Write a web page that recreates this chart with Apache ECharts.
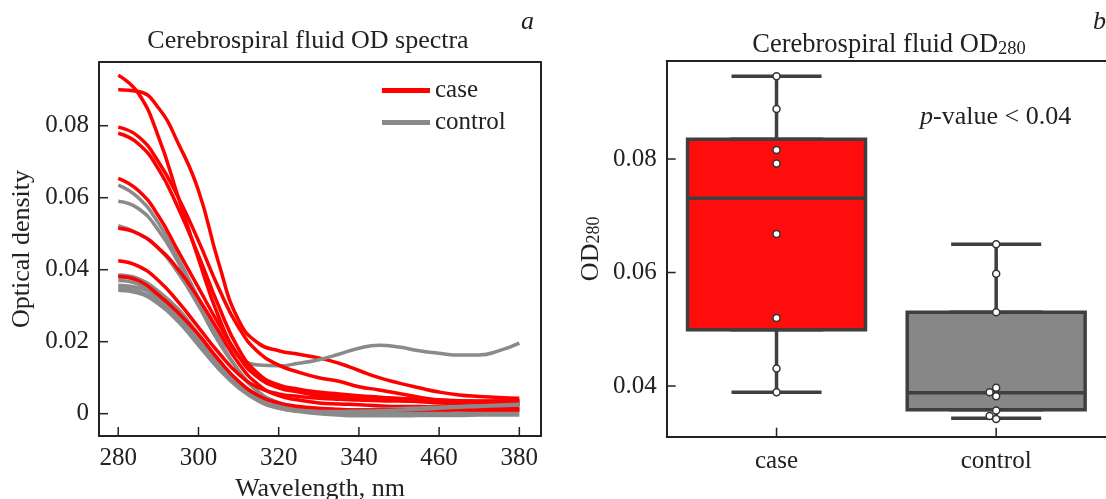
<!DOCTYPE html>
<html>
<head>
<meta charset="utf-8">
<script src="https://cdn.jsdelivr.net/npm/echarts@6/dist/echarts.min.js"></script>
<style>
  html, body { margin: 0; padding: 0; background: #fff; }
  #chart-container { width: 1106px; height: 499px; }
</style>
</head>
<body>
<div id="chart-container"></div>
<script>
// ---- data ----
var wavelengths = [280, 285, 290, 295, 300, 305, 310, 315, 320, 325, 330, 335, 340, 345, 350, 355, 360, 365, 370, 375, 380];

var caseSpectra = [
  [0.094, 0.089, 0.077, 0.060, 0.043, 0.027, 0.016, 0.010, 0.0075, 0.0065, 0.0058, 0.0052, 0.0048, 0.0045, 0.0042, 0.0040, 0.0038, 0.0036, 0.0035, 0.0035, 0.0035],
  [0.090, 0.0895, 0.085, 0.075, 0.062, 0.042, 0.026, 0.0195, 0.0175, 0.0165, 0.0155, 0.014, 0.012, 0.010, 0.0085, 0.0072, 0.006, 0.0052, 0.0048, 0.0045, 0.0043],
  [0.0796, 0.077, 0.070, 0.060, 0.048, 0.035, 0.024, 0.017, 0.0135, 0.0115, 0.010, 0.009, 0.0075, 0.0066, 0.0056, 0.0046, 0.0038, 0.0035, 0.0034, 0.0033, 0.0033],
  [0.0779, 0.075, 0.068, 0.057, 0.044, 0.030, 0.018, 0.011, 0.008, 0.0068, 0.006, 0.0055, 0.005, 0.0046, 0.0042, 0.004, 0.0037, 0.0035, 0.0033, 0.003, 0.003],
  [0.0654, 0.062, 0.055, 0.045, 0.035, 0.025, 0.016, 0.010, 0.0072, 0.006, 0.005, 0.0045, 0.0042, 0.004, 0.0037, 0.0034, 0.003, 0.0028, 0.0027, 0.0026, 0.0025],
  [0.0515, 0.050, 0.046, 0.040, 0.032, 0.023, 0.014, 0.008, 0.005, 0.0038, 0.003, 0.0027, 0.0025, 0.0022, 0.002, 0.002, 0.0019, 0.0018, 0.0017, 0.0016, 0.0015],
  [0.0425, 0.041, 0.037, 0.031, 0.024, 0.017, 0.011, 0.0072, 0.0055, 0.0048, 0.0043, 0.004, 0.0038, 0.0036, 0.0035, 0.0034, 0.0033, 0.0033, 0.0034, 0.0035, 0.0036],
  [0.0381, 0.037, 0.033, 0.028, 0.022, 0.015, 0.009, 0.005, 0.003, 0.002, 0.0015, 0.0012, 0.001, 0.001, 0.0011, 0.001, 0.001, 0.0011, 0.001, 0.001, 0.001]
];

var controlSpectra = [
  [0.0635, 0.060, 0.053, 0.043, 0.032, 0.021, 0.012, 0.006, 0.003, 0.0015, 0.001, 0.0008, 0.0006, 0.0005, 0.0005, 0.0006, 0.0006, 0.0007, 0.0008, 0.001, 0.0012],
  [0.059, 0.057, 0.051, 0.042, 0.032, 0.022, 0.016, 0.0135, 0.0133, 0.014, 0.015, 0.0165, 0.0182, 0.019, 0.0185, 0.0175, 0.0168, 0.0163, 0.0163, 0.0175, 0.0196],
  [0.0522, 0.050, 0.046, 0.039, 0.030, 0.020, 0.012, 0.006, 0.003, 0.0018, 0.0012, 0.001, 0.001, 0.0012, 0.0014, 0.0015, 0.0016, 0.0018, 0.002, 0.0022, 0.0025],
  [0.0385, 0.0375, 0.034, 0.029, 0.022, 0.015, 0.009, 0.005, 0.0025, 0.0015, 0.001, 0.0008, 0.0008, 0.001, 0.0012, 0.0013, 0.0015, 0.0017, 0.0019, 0.0021, 0.0023],
  [0.038, 0.037, 0.0335, 0.0285, 0.0215, 0.0145, 0.0085, 0.0045, 0.002, 0.001, 0.0004, 0.0002, 0.0002, 0.0003, 0.0003, 0.0004, 0.0005, 0.0006, 0.0007, 0.0008, 0.001],
  [0.037, 0.036, 0.0325, 0.0275, 0.021, 0.014, 0.0082, 0.0042, 0.0018, 0.0008, 0.0002, -0.0002, -0.0003, -0.0003, -0.0002, -0.0002, -0.0001, 0, 0, 0.0002, 0.0003],
  [0.0357, 0.035, 0.032, 0.027, 0.0205, 0.0135, 0.008, 0.004, 0.0018, 0.001, 0.0008, 0.0009, 0.001, 0.0012, 0.0014, 0.0016, 0.0018, 0.002, 0.0022, 0.0024, 0.0026],
  [0.035, 0.034, 0.031, 0.026, 0.0195, 0.013, 0.0075, 0.0038, 0.0016, 0.0006, 0, -0.0004, -0.0006, -0.0006, -0.0006, -0.0005, -0.0005, -0.0005, -0.0004, -0.0004, -0.0004],
  [0.0343, 0.0335, 0.0305, 0.0255, 0.019, 0.0125, 0.0072, 0.0035, 0.0015, 0.0008, 0.0006, 0.0006, 0.0007, 0.0008, 0.001, 0.0012, 0.0015, 0.0018, 0.002, 0.0022, 0.0024]
];

var xTickValues = [280, 300, 320, 340, 360, 380];
var xTickText = ['280', '300', '320', '340', '460', '380'];
var odTickValues = [0, 0.02, 0.04, 0.06, 0.08];
var od280TickValues = [0.04, 0.06, 0.08];

var groups = ['case', 'control'];
// whisker low, Q1, median, Q3, whisker high
var caseBox = [0.0389, 0.0499, 0.0731, 0.0835, 0.0946];
var controlBox = [0.0343, 0.0358, 0.0388, 0.0530, 0.0650];
var caseOD280 = [0.0946, 0.0888, 0.0816, 0.0792, 0.0668, 0.0520, 0.0431, 0.0389];
var controlOD280 = [0.0650, 0.0598, 0.0530, 0.0397, 0.0389, 0.0382, 0.0357, 0.0347, 0.0342];
var controlJitter = [0, 0, 0, 0, -0.03, 0, 0, -0.03, 0];

var RED = '#ff0000';
var GREY = '#8a8a8a';
var FONT = 'Liberation Serif';
var INK = '#222';

// axis ranges
var X0 = [275.2, 385.4];
var Y0 = [-0.0062, 0.0977];
var Y1 = [0.03107, 0.09727];

var dom = document.getElementById('chart-container');
var myChart = echarts.init(dom, null, { renderer: 'canvas' });

var lineSeries = [];
function addSpectrum(name, color, values) {
  lineSeries.push({
    name: name,
    type: 'line',
    xAxisIndex: 0,
    yAxisIndex: 0,
    data: wavelengths.map(function (w, i) { return [w, values[i]]; }),
    showSymbol: false,
    smooth: true,
    color: color,
    lineStyle: { color: color, width: 3.5 }
  });
}
for (var i = 0; i < 9; i++) {
  if (i < caseSpectra.length) addSpectrum('case', RED, caseSpectra[i]);
  addSpectrum('control', GREY, controlSpectra[i]);
}

// inward tick marks, placed through the axes' own scales
function tickSeries(xAxisIndex, yAxisIndex, points, dx, dy) {
  return {
    type: 'custom',
    xAxisIndex: xAxisIndex,
    yAxisIndex: yAxisIndex,
    z: 10,
    silent: true,
    clip: false,
    data: points,
    renderItem: function (params, api) {
      var p = api.coord([api.value(0), api.value(1)]);
      return {
        type: 'line',
        shape: { x1: p[0], y1: p[1], x2: p[0] + dx, y2: p[1] + dy },
        style: { stroke: INK, lineWidth: 1.5 }
      };
    }
  };
}

function odFormat(v) {
  if (Math.abs(v) < 1e-9) return '0';
  return v.toFixed(2);
}

var labelStyle = { color: INK, fontSize: 25, fontFamily: FONT };
var frameLine = { show: true, onZero: false, lineStyle: { color: INK, width: 2 } };
var plain = { color: INK, fontFamily: FONT, fontWeight: 'normal' };

function frameAxis(base) {
  return Object.assign({
    axisLine: frameLine, axisTick: { show: false }, axisLabel: { show: false }, splitLine: { show: false }
  }, base);
}

var option = {
  animation: false,
  backgroundColor: '#fff',
  textStyle: { fontFamily: FONT },
  title: [
    { text: 'Cerebrospiral fluid OD spectra', left: 303, top: 23, textAlign: 'center',
      textStyle: Object.assign({ fontSize: 26 }, plain) },
    { text: 'a', left: 516, top: 4,
      textStyle: Object.assign({ fontSize: 26, fontStyle: 'italic' }, plain) },
    { text: '{m|Cerebrospiral fluid OD}{s|280}', left: 884, top: 22, textAlign: 'center',
      textStyle: { fontWeight: 'normal', rich: {
        m: Object.assign({ fontSize: 26.5, verticalAlign: 'bottom' }, plain),
        s: Object.assign({ fontSize: 18.5, padding: [13, 0, 0, 0], verticalAlign: 'bottom' }, plain)
      } } },
    { text: 'b', left: 1088, top: 4,
      textStyle: Object.assign({ fontSize: 26, fontStyle: 'italic' }, plain) },
    { text: '{i|p}{n|-value < 0.04}', left: 915, top: 99,
      textStyle: { fontWeight: 'normal', rich: {
        i: Object.assign({ fontSize: 26, fontStyle: 'italic' }, plain),
        n: Object.assign({ fontSize: 26 }, plain)
      } } }
  ],
  legend: {
    data: ['case', 'control'],
    orient: 'vertical',
    left: 377,
    top: 73,
    icon: 'rect',
    itemWidth: 48,
    itemHeight: 5,
    itemGap: 7,
    textStyle: { fontSize: 25, color: INK, fontFamily: FONT, lineHeight: 25 }
  },
  grid: [
    { left: 99, top: 62, width: 442, height: 374, show: false, outerBoundsMode: 'none' },
    { left: 666.7, top: 61, right: 0, height: 375.7, show: false }
  ],
  xAxis: [
    {
      type: 'value', gridIndex: 0, min: X0[0], max: X0[1], position: 'bottom',
      name: 'Wavelength, nm', nameLocation: 'middle', nameGap: 36,
      nameTextStyle: { fontSize: 26, color: INK, fontFamily: FONT },
      axisLine: frameLine,
      axisTick: { show: false },
      splitLine: { show: false },
      axisLabel: Object.assign({ margin: 10, showMinLabel: false, showMaxLabel: false,
        formatter: function (v) {
          var k = xTickValues.indexOf(Math.round(v));
          return k >= 0 ? xTickText[k] : '';
        } }, labelStyle)
    },
    {
      type: 'category', gridIndex: 1, data: groups, position: 'bottom',
      axisLine: frameLine,
      axisTick: { show: false },
      axisLabel: Object.assign({ margin: 12 }, labelStyle)
    },
    { type: 'value', gridIndex: 1, min: -0.5, max: 1.5, show: false },
    { type: 'category', gridIndex: 1, data: groups, show: false },
    frameAxis({ type: 'value', gridIndex: 0, min: X0[0], max: X0[1], position: 'top' }),
    frameAxis({ type: 'value', gridIndex: 1, min: 0, max: 1, position: 'top' })
  ],
  yAxis: [
    {
      type: 'value', gridIndex: 0, min: Y0[0], max: Y0[1], position: 'left',
      name: 'Optical density', nameLocation: 'middle', nameGap: 64, nameRotate: 90,
      nameTextStyle: { fontSize: 26, color: INK, fontFamily: FONT },
      axisLine: frameLine,
      axisTick: { show: false },
      splitLine: { show: false },
      axisLabel: Object.assign({ margin: 10, showMinLabel: false, showMaxLabel: false, formatter: odFormat }, labelStyle)
    },
    {
      type: 'value', gridIndex: 1, min: Y1[0], max: Y1[1], splitNumber: 3, position: 'left',
      name: '{a|OD}{b|280}', nameLocation: 'middle', nameGap: 63, nameRotate: 90,
      nameTextStyle: { rich: {
        a: { fontSize: 26, color: INK, fontFamily: FONT, verticalAlign: 'bottom' },
        b: { fontSize: 18, color: INK, fontFamily: FONT, padding: [12, 0, 0, 0], verticalAlign: 'bottom' }
      } },
      axisLine: frameLine,
      axisTick: { show: false },
      splitLine: { show: false },
      axisLabel: Object.assign({ margin: 10, showMinLabel: false, showMaxLabel: false, formatter: odFormat }, labelStyle)
    },
    frameAxis({ type: 'value', gridIndex: 0, min: Y0[0], max: Y0[1], position: 'right' })
  ],
  series: lineSeries.concat([
    {
      // narrow copy: whiskers and caps
      type: 'boxplot', xAxisIndex: 3, yAxisIndex: 1,
      boxWidth: ['41%', '41%'],
      itemStyle: { color: '#888', borderColor: '#3f3f3f', borderWidth: 3.5 },
      data: [caseBox, controlBox]
    },
    {
      // full-width boxes
      type: 'boxplot', xAxisIndex: 1, yAxisIndex: 1,
      boxWidth: ['81%', '81%'],
      z: 3,
      itemStyle: { borderColor: '#3f3f3f', borderWidth: 3.5 },
      data: [
        { value: [caseBox[1], caseBox[1], caseBox[2], caseBox[3], caseBox[3]], itemStyle: { color: '#ff0d0d' } },
        { value: [controlBox[1], controlBox[1], controlBox[2], controlBox[3], controlBox[3]], itemStyle: { color: '#878787' } }
      ]
    },
    {
      type: 'scatter', xAxisIndex: 2, yAxisIndex: 1, z: 5,
      symbolSize: 7,
      itemStyle: { color: '#fff', borderColor: '#333', borderWidth: 1.5, opacity: 1 },
      data: caseOD280.map(function (v) { return [0, v]; })
        .concat(controlOD280.map(function (v, k) { return [1 + controlJitter[k], v]; }))
    },
    tickSeries(0, 0, xTickValues.map(function (v) { return [v, Y0[0]]; }), 0, -9),
    tickSeries(0, 0, odTickValues.map(function (v) { return [X0[0], v]; }), 9, 0),
    tickSeries(2, 1, [[0, Y1[0]], [1, Y1[0]]], 0, -9),
    tickSeries(2, 1, od280TickValues.map(function (v) { return [-0.5, v]; }), 9, 0)
  ])
};

myChart.setOption(option);
window.addEventListener('resize', myChart.resize);
</script>
</body>
</html>
